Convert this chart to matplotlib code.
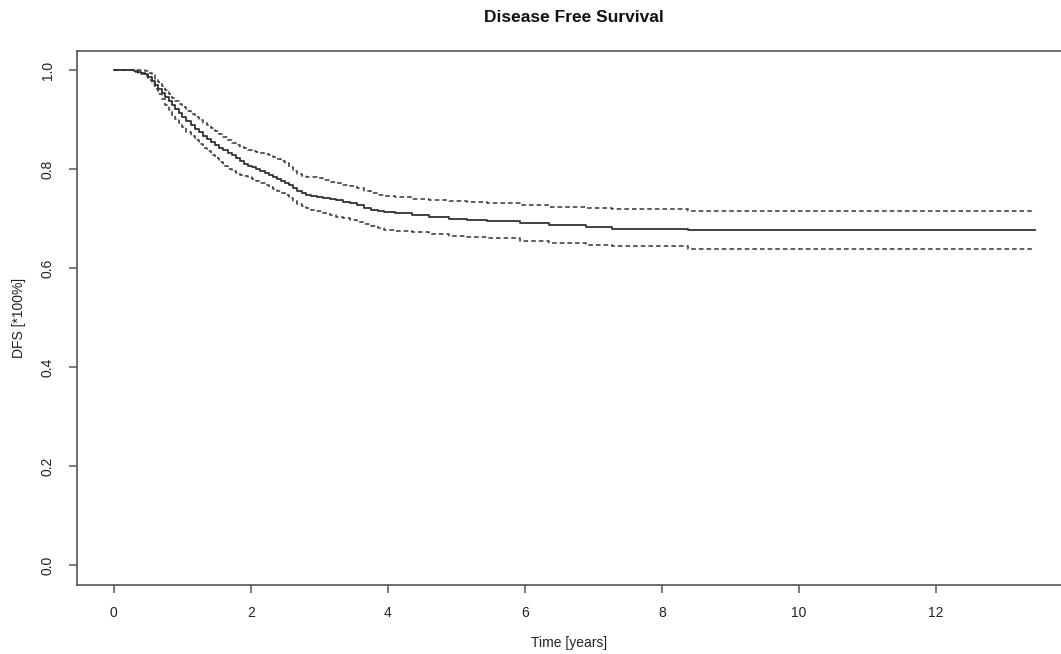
import matplotlib
matplotlib.use("Agg")
import matplotlib.pyplot as plt

plt.rcParams['font.family'] = ['Liberation Sans', 'DejaVu Sans']

# Kaplan-Meier estimate (years) with 95% confidence bounds
time_years = [0,
              0.30, 0.35, 0.40, 0.45, 0.50, 0.55, 0.60, 0.65, 0.70, 0.75,
              0.80, 0.85, 0.90, 0.95, 1.00,
              1.06, 1.12, 1.18, 1.24, 1.30, 1.36, 1.42, 1.48, 1.54, 1.60,
              1.66, 1.72, 1.78, 1.84, 1.90, 1.96, 2.02, 2.08, 2.14, 2.20,
              2.26, 2.32, 2.38, 2.44, 2.50, 2.56, 2.62, 2.68, 2.74, 2.80,
              2.88, 2.96, 3.05,
              3.15, 3.25, 3.35, 3.45, 3.55, 3.65, 3.75, 3.85, 3.95,
              4.10, 4.35, 4.60, 4.90, 5.15, 5.45, 5.93, 6.36, 6.90, 7.27, 8.38, 13.45]
dfs = [1.0,
       0.999, 0.997, 0.995, 0.992, 0.986, 0.979, 0.971, 0.963, 0.955, 0.946,
       0.937, 0.929, 0.921, 0.913, 0.905,
       0.897, 0.889, 0.882, 0.875, 0.868, 0.861, 0.855, 0.849, 0.843, 0.838,
       0.833, 0.828, 0.823, 0.817, 0.811, 0.807, 0.804, 0.800, 0.797, 0.793,
       0.789, 0.785, 0.781, 0.777, 0.772, 0.768, 0.762, 0.757, 0.752, 0.749,
       0.746, 0.743, 0.741,
       0.739, 0.737, 0.734, 0.731, 0.727, 0.722, 0.718, 0.715, 0.713,
       0.711, 0.707, 0.704, 0.700, 0.698, 0.695, 0.691, 0.687, 0.684, 0.680, 0.677, 0.677]
dfs_upper = [1.0,
             1.0, 1.0, 1.0, 0.999, 0.995, 0.990, 0.983, 0.976, 0.968, 0.960,
             0.952, 0.945, 0.938, 0.931, 0.925,
             0.918, 0.912, 0.906, 0.900, 0.894, 0.889, 0.884, 0.878, 0.872, 0.866,
             0.860, 0.854, 0.849, 0.846, 0.843, 0.839, 0.836, 0.834, 0.832, 0.830,
             0.828, 0.825, 0.821, 0.817, 0.812, 0.805, 0.797, 0.790, 0.787, 0.785,
             0.784, 0.782, 0.778,
             0.774, 0.772, 0.769, 0.766, 0.762, 0.757, 0.752, 0.748, 0.745,
             0.743, 0.740, 0.738, 0.735, 0.734, 0.732, 0.728, 0.724, 0.721, 0.719, 0.716, 0.716]
dfs_lower = [1.0,
             0.996, 0.994, 0.993, 0.988, 0.980, 0.972, 0.962, 0.952, 0.941, 0.930,
             0.920, 0.910, 0.901, 0.893, 0.885,
             0.876, 0.867, 0.859, 0.851, 0.843, 0.836, 0.829, 0.822, 0.814, 0.807,
             0.801, 0.796, 0.792, 0.789, 0.787, 0.784, 0.781, 0.777, 0.773, 0.768,
             0.764, 0.760, 0.756, 0.752, 0.748, 0.742, 0.735, 0.729, 0.725, 0.721,
             0.718, 0.716, 0.712,
             0.707, 0.704, 0.701, 0.698, 0.694, 0.690, 0.685, 0.681, 0.678,
             0.676, 0.673, 0.669, 0.666, 0.664, 0.662, 0.655, 0.651, 0.647, 0.644, 0.639, 0.639]

x_ticks = [0, 2, 4, 6, 8, 10, 12]
y_ticks = [0.0, 0.2, 0.4, 0.6, 0.8, 1.0]
y_ticklabels = ["0.0", "0.2", "0.4", "0.6", "0.8", "1.0"]

W, H = 1061, 654
fig = plt.figure(figsize=(W / 100, H / 100), dpi=100)
ax = fig.add_axes([77 / W, 69 / H, 995 / W, 534.5 / H])

line_col = '#333333'
ax.plot(time_years, dfs, drawstyle='steps-post', color=line_col, lw=1.3)
ax.plot(time_years, dfs_upper, drawstyle='steps-post', color=line_col, lw=1.1,
        linestyle=(0, (3, 2)))
ax.plot(time_years, dfs_lower, drawstyle='steps-post', color=line_col, lw=1.1,
        linestyle=(0, (3, 2)))

xmax = max(time_years)
ext = 0.04 * xmax
ax.set_xlim(-ext, xmax + ext)
ax.set_ylim(-0.04, 1.04)

ax.set_xticks(x_ticks)
ax.set_yticks(y_ticks)
ax.set_yticklabels(y_ticklabels, rotation=90, va='center')

for s in ax.spines.values():
    s.set_color('#555555')
    s.set_linewidth(1.2)

ax.tick_params(axis='both', direction='out', length=6, width=1.1,
               color='#555555', labelsize=10, labelcolor='#222222')
ax.tick_params(axis='x', pad=9)
ax.tick_params(axis='y', pad=10)

ax.set_xlabel("Time [years]", fontsize=10, color='#222222')
ax.xaxis.set_label_coords(492 / 995, -58 / 534.5)
ax.xaxis.label.set_va('center')
ax.set_ylabel("DFS [*100%]", fontsize=10, color='#222222')
ax.yaxis.set_label_coords(-58 / 995, 0.5)
ax.yaxis.label.set_va('center')

fig.text(573.5 / W, 1 - 17 / H, "Disease Free Survival", ha='center',
         va='center', fontsize=12.5, fontweight='bold', color='#111111')

fig.savefig("out.png", dpi=100)
